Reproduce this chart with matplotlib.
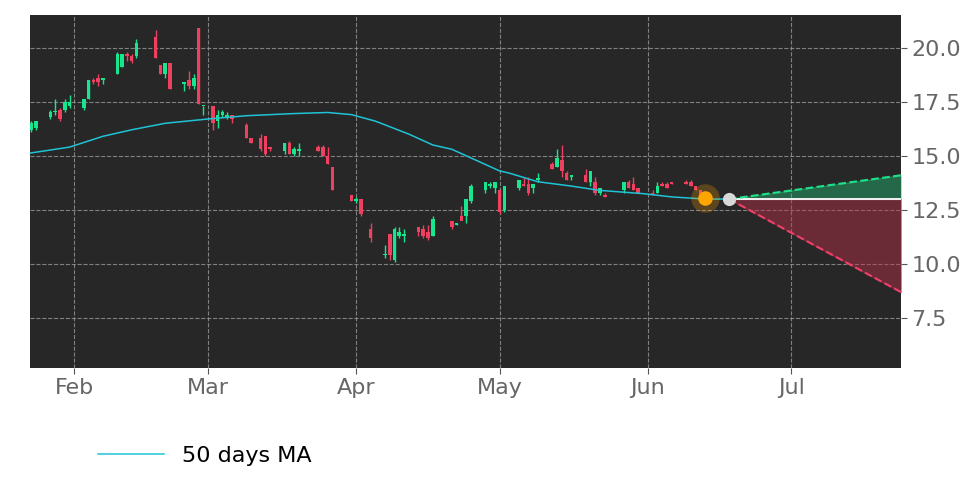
import pandas as pd
import numpy as np
import matplotlib
matplotlib.use("Agg")
from matplotlib import pyplot as plt
import matplotlib.dates as mdates

# candle dates and (open, high, low, close)
dates = ["01-23", "01-24",
         "01-27", "01-28", "01-29", "01-30", "01-31",
         "02-03", "02-04", "02-05", "02-06", "02-07",
         "02-10", "02-11", "02-12", "02-13", "02-14",
         "02-18", "02-19", "02-20", "02-21",
         "02-24", "02-25", "02-26", "02-27", "02-28",
         "03-02", "03-03", "03-04", "03-05", "03-06",
         "03-09", "03-10", "03-12", "03-13", "03-14",
         "03-17", "03-18", "03-19", "03-20",
         "03-24", "03-25", "03-26", "03-27",
         "03-31", "04-01", "04-02",
         "04-04",
         "04-07", "04-08", "04-09", "04-10", "04-11",
         "04-14", "04-15", "04-16", "04-17",
         "04-21", "04-22",
         "04-23", "04-24", "04-25",
         "04-28", "04-29", "04-30",
         "05-01", "05-02",
         "05-05", "05-06", "05-07", "05-08", "05-09",
         "05-12", "05-13", "05-14", "05-15", "05-16",
         "05-19", "05-20", "05-21", "05-22", "05-23",
         "05-27", "05-28", "05-29", "05-30",
         "06-02", "06-03", "06-04", "06-05", "06-06",
         "06-09", "06-10", "06-11", "06-12", "06-13"]

candles = [
    (16.2, 16.6, 16.1, 16.5), (16.3, 16.6, 16.2, 16.6),
    (16.8, 17.1, 16.7, 17.0), (17.0, 17.6, 16.9, 17.0), (17.1, 17.2, 16.6, 16.7),
    (17.1, 17.6, 17.0, 17.5), (17.3, 17.8, 17.2, 17.5),
    (17.2, 17.6, 17.1, 17.6), (17.6, 18.5, 17.6, 18.5), (18.5, 18.6, 18.3, 18.4),
    (18.6, 18.8, 18.2, 18.4), (18.5, 18.6, 18.3, 18.6),
    (18.8, 19.8, 18.8, 19.7), (19.1, 19.7, 19.1, 19.7), (19.7, 19.8, 19.4, 19.6),
    (19.6, 19.7, 19.3, 19.4), (19.6, 20.4, 19.5, 20.2),
    (20.5, 20.8, 19.5, 19.5), (19.2, 19.2, 18.8, 18.8), (18.8, 19.3, 18.6, 19.3),
    (19.3, 19.3, 18.1, 18.1),
    (18.3, 18.4, 18.0, 18.4), (18.5, 18.9, 18.1, 18.2), (18.2, 18.8, 18.1, 18.6),
    (20.9, 20.9, 17.4, 17.4), (17.3, 17.3, 16.9, 17.3),
    (17.3, 17.3, 16.2, 16.5), (16.6, 17.1, 16.3, 16.9), (16.9, 17.1, 16.8, 17.0),
    (16.8, 17.0, 16.7, 16.9), (16.9, 16.9, 16.5, 16.7),
    (16.4, 16.5, 15.8, 15.8), (15.8, 15.8, 15.6, 15.6), (15.8, 16.0, 15.2, 15.3),
    (15.9, 15.9, 15.0, 15.1), (15.4, 15.4, 15.2, 15.3),
    (15.2, 15.6, 15.1, 15.6), (15.6, 15.7, 15.1, 15.1), (15.1, 15.4, 15.0, 15.3),
    (15.2, 15.6, 15.0, 15.3),
    (15.4, 15.5, 15.2, 15.2), (15.4, 15.5, 15.0, 15.0), (15.0, 15.4, 14.6, 14.6),
    (14.5, 14.5, 13.4, 13.4),
    (13.2, 13.2, 12.9, 12.9), (12.9, 13.1, 12.8, 13.0), (13.0, 13.0, 12.2, 12.3),
    (11.6, 11.9, 11.0, 11.2),
    (10.4, 10.9, 10.3, 10.4), (11.4, 11.4, 10.2, 10.4), (10.2, 11.7, 10.1, 11.6),
    (11.3, 11.7, 11.2, 11.5), (11.3, 11.6, 11.0, 11.4),
    (11.7, 11.7, 11.3, 11.5), (11.6, 11.8, 11.2, 11.3), (11.5, 11.8, 11.1, 11.2),
    (11.3, 12.2, 11.3, 12.1),
    (12.0, 12.0, 11.6, 11.7), (11.8, 11.9, 11.8, 11.9),
    (12.2, 12.7, 12.1, 12.0), (12.2, 13.0, 11.9, 13.0), (12.9, 13.7, 12.8, 13.6),
    (13.4, 13.8, 13.3, 13.8), (13.6, 13.8, 13.5, 13.7), (13.5, 13.8, 13.3, 13.8),
    (13.4, 13.4, 12.3, 12.4), (12.5, 13.6, 12.4, 13.6),
    (13.5, 13.9, 13.4, 13.9), (13.7, 14.0, 13.6, 13.6), (13.7, 14.0, 13.2, 13.3),
    (13.5, 13.7, 13.3, 13.7), (13.9, 14.2, 13.8, 13.9),
    (14.6, 14.7, 14.4, 14.4), (14.5, 15.3, 14.5, 14.9), (14.8, 15.5, 14.0, 14.3),
    (14.2, 14.3, 13.9, 13.9), (14.0, 14.1, 13.9, 14.1),
    (14.1, 14.4, 13.8, 13.8), (13.8, 14.3, 13.6, 14.3), (13.8, 14.0, 13.2, 13.3),
    (13.3, 13.5, 13.2, 13.5), (13.2, 13.3, 13.1, 13.1),
    (13.4, 13.8, 13.3, 13.8), (13.8, 13.9, 13.5, 13.5), (13.7, 14.0, 13.4, 13.4),
    (13.5, 13.5, 13.3, 13.3),
    (13.3, 13.4, 13.2, 13.2), (13.3, 13.8, 13.3, 13.6), (13.7, 13.8, 13.6, 13.6),
    (13.7, 13.8, 13.5, 13.5), (13.8, 13.8, 13.7, 13.7),
    (13.8, 13.9, 13.7, 13.7), (13.8, 13.9, 13.6, 13.6), (13.6, 13.6, 13.4, 13.4),
    (13.4, 13.4, 13.2, 13.2), (13.1, 13.2, 12.9, 12.9),
]
days = pd.to_datetime(["2022-" + d for d in dates])

ma_dates = pd.to_datetime(["2022-01-22", "2022-01-31", "2022-02-07", "2022-02-13",
    "2022-02-20", "2022-03-01", "2022-03-09", "2022-03-19", "2022-03-26",
    "2022-03-31", "2022-04-05", "2022-04-12", "2022-04-17", "2022-04-21",
    "2022-04-26", "2022-05-01", "2022-05-03", "2022-05-09", "2022-05-16",
    "2022-05-22", "2022-05-31", "2022-06-06", "2022-06-13", "2022-06-18"])
ma_vals = [15.1, 15.4, 15.9, 16.2, 16.5, 16.7, 16.85, 16.95, 17.0, 16.9, 16.6,
           16.0, 15.5, 15.3, 14.8, 14.3, 14.2, 13.8, 13.6, 13.4, 13.25, 13.1,
           13.0, 13.0]

last_date, last_val = pd.Timestamp("2022-06-13"), 13.05
proj_start, proj_end = pd.Timestamp("2022-06-18"), pd.Timestamp("2022-07-24")
proj_base, proj_up, proj_down = 13.0, 14.1, 8.7

green, red = "#18e68e", "#f0405f"

fig = plt.figure(figsize=(9.72, 4.86), dpi=100)
ax = fig.add_axes([0.031, 0.243, 0.896, 0.726])
ax.set_facecolor("#272727")

w = 0.75
for d, (o, h, l, c) in zip(days, candles):
    col = green if c >= o else red
    x = mdates.date2num(d)
    ax.vlines(x, l, h, color=col, lw=1, zorder=3)
    ax.bar(x, max(abs(c - o), 0.06), bottom=min(o, c), width=w, color=col, zorder=3)

ax.plot(ma_dates, ma_vals, color="#1fc3d6", lw=1.1, zorder=4, label="50 days MA")

px = [proj_start, proj_end]
ax.plot(px, [proj_base, proj_base], color="white", lw=1.3, zorder=4)
ax.plot(px, [proj_base, proj_up], color="#1fe08a", lw=1.5, ls="--", zorder=4)
ax.plot(px, [proj_base, proj_down], color="#f0406a", lw=1.5, ls="--", zorder=4)
ax.fill_between(px, [proj_base, proj_base], [proj_base, proj_up], color="#1fe08a", alpha=0.35, zorder=2)
ax.fill_between(px, [proj_base, proj_down], [proj_base, proj_base], color="#c0304a", alpha=0.45, zorder=2)

ax.scatter([last_date], [last_val], s=420, color="#ffa500", alpha=0.25, zorder=5, lw=0)
ax.scatter([last_date], [last_val], s=110, color="#ffa500", zorder=6, lw=0)
ax.scatter([proj_start], [proj_base], s=90, color="#d8d8d8", zorder=6, lw=0)

ax.set_xlim(pd.Timestamp("2022-01-22 18:00"), pd.Timestamp("2022-07-24"))
ax.set_ylim(5.2, 21.5)
ax.set_yticks([7.5, 10.0, 12.5, 15.0, 17.5, 20.0])
ax.yaxis.tick_right()
ax.xaxis.set_major_locator(mdates.MonthLocator())
ax.xaxis.set_major_formatter(mdates.DateFormatter("%b"))
ax.tick_params(labelsize=16, colors="#555555", labelcolor="#666666", length=4)
ax.grid(True, color="#999999", ls="--", lw=0.8, alpha=0.8)
for s in ax.spines.values():
    s.set_visible(False)

fig.legend(handles=ax.get_lines()[:1], loc="lower left", bbox_to_anchor=(0.08, 0.0),
           frameon=False, fontsize=16, handlelength=3)

fig.savefig("out.png")
